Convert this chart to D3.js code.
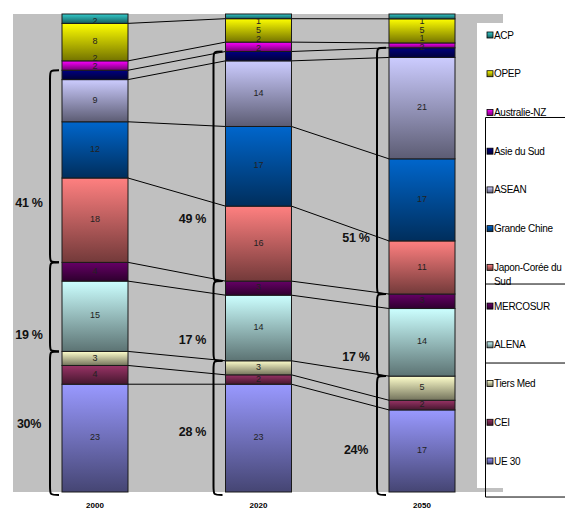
<!DOCTYPE html>
<html>
<head>
<meta charset="utf-8">
<script src="https://cdn.jsdelivr.net/npm/d3@7"></script>
<style>
  body { margin: 0; background: #fff; }
  svg { display: block; font-family: "Liberation Sans", Arial, sans-serif; }
</style>
</head>
<body>
<div id="chart"></div>
<script>
// data, listed from the top of each bar to the bottom
var years = ['2000', '2020', '2050'];
var regions = ['ACP', 'OPEP', 'Australie-NZ', 'Asie du Sud', 'ASEAN', 'Grande Chine',
  'Japon-Corée du Sud', 'MERCOSUR', 'ALENA', 'Tiers Med', 'CEI', 'UE 30'];
var regionColors = ['#33CCCC', '#FFFF00', '#FF00FF', '#000080', '#CCCCFF', '#0066CC',
  '#FF8080', '#660066', '#CCFFFF', '#FFFFCC', '#993366', '#9999FF'];

var share2000 = [2, 8, 2, 2, 9, 12, 18, 4, 15, 3, 4, 23];
var share2020 = [1, 5, 2, 2, 14, 17, 16, 3, 14, 3, 2, 23];
var share2050 = [1, 5, 1, 2, 21, 17, 11, 3, 14, 5, 2, 17];

// brace groups and their totals
var groupMembers = [
  ['Asie du Sud', 'ASEAN', 'Grande Chine', 'Japon-Corée du Sud'],
  ['MERCOSUR', 'ALENA'],
  ['Tiers Med', 'CEI', 'UE 30']
];
var groupLabels = [
  ['41 %', '19 %', '30%'],
  ['49 %', '17 %', '28 %'],
  ['51 %', '17 %', '24%']
];

// layout bits (hand placed in the original)
var pctAnchor = [[0.69, 0.81, 0.50], [0.73, 0.74, 0.53], [0.77, 0.76, 0.62]];
var legendRules = [2.13, 6.43, 8.47, 11.93];

var width = 565, height = 510;
var plot = { left: 13, top: 14, right: 503, bottom: 492 };
var barWidth = 66;

var svg = d3.select('#chart').append('svg')
  .attr('width', width)
  .attr('height', height);

var shares = [share2000, share2020, share2050];
var table = years.map(function(yr, i){
  var row = { year: yr };
  regions.forEach(function(r, k){ row[r] = shares[i][k]; });
  return row;
});

var stack = d3.stack()
  .keys(regions.slice().reverse())
  .offset(d3.stackOffsetExpand);
var series = stack(table);

var x = d3.scalePoint().domain(years).range([95, 422]);
var y = d3.scaleLinear().domain([0, 1]).range([plot.bottom, plot.top]);

// gradients: colour at the top, darker at the bottom
var defs = svg.append('defs');
regions.forEach(function(r, k){
  var c = d3.rgb(regionColors[k]);
  var dark = d3.rgb(c.r * 0.45, c.g * 0.45, c.b * 0.45);
  var g = defs.append('linearGradient')
    .attr('id', 'grad' + k)
    .attr('x1', 0).attr('y1', 0).attr('x2', 0).attr('y2', 1);
  g.append('stop').attr('offset', '0%').attr('stop-color', c.formatHex());
  g.append('stop').attr('offset', '100%').attr('stop-color', dark.formatHex());
});
function fillOf(r){ return 'url(#grad' + regions.indexOf(r) + ')'; }

// grey plot area
svg.append('rect')
  .attr('x', plot.left).attr('y', plot.top)
  .attr('width', plot.right - plot.left)
  .attr('height', plot.bottom - plot.top)
  .attr('fill', '#C0C0C0');

// segment geometry per bar
var segs = [];
series.forEach(function(s){
  s.forEach(function(d, j){
    segs.push({
      key: s.key,
      year: years[j],
      value: d.data[s.key],
      top: y(d[1]),
      bottom: y(d[0])
    });
  });
});
function segOf(key, yr){
  return segs.find(function(d){ return d.key === key && d.year === yr; });
}

// connector lines between bars
for (var i = 0; i < years.length - 1; i++){
  regions.slice(1).forEach(function(r){
    var a = segOf(r, years[i]), b = segOf(r, years[i + 1]);
    svg.append('line')
      .attr('x1', x(years[i]) + barWidth / 2).attr('y1', a.top)
      .attr('x2', x(years[i + 1]) - barWidth / 2).attr('y2', b.top)
      .attr('stroke', '#000')
      .attr('stroke-width', 1);
  });
}

// bars
svg.append('g').selectAll('rect')
  .data(segs)
  .join('rect')
  .attr('x', function(d){ return x(d.year) - barWidth / 2; })
  .attr('y', function(d){ return d.top; })
  .attr('width', barWidth)
  .attr('height', function(d){ return d.bottom - d.top; })
  .attr('fill', function(d){ return fillOf(d.key); })
  .attr('stroke', '#1a1a1a')
  .attr('stroke-width', 1);

// value labels, nudged apart where the segments are thin
years.forEach(function(yr){
  var labs = regions.map(function(r){
    var s = segOf(r, yr);
    var ly = (s.top + s.bottom) / 2 - 1;
    if (r === 'Asie du Sud') ly = s.top - 4;
    return { text: s.value, y: ly };
  });
  for (var k = labs.length - 2; k >= 0; k--){
    labs[k].y = Math.min(labs[k].y, labs[k + 1].y - 8.5);
  }
  labs[0].y = Math.max(labs[0].y, 21);
  for (var k2 = 1; k2 < labs.length; k2++){
    labs[k2].y = Math.max(labs[k2].y, labs[k2 - 1].y + 8.5);
  }
  svg.append('g').selectAll('text')
    .data(labs)
    .join('text')
    .attr('x', x(yr))
    .attr('y', function(d){ return d.y; })
    .attr('dy', '0.35em')
    .attr('text-anchor', 'middle')
    .attr('font-size', '9px')
    .attr('fill', '#222')
    .text(function(d){ return d.text; });
});

// braces and group percentages
years.forEach(function(yr, i){
  var left = x(yr) - barWidth / 2;
  var xl = left - 12, xe = left - 3, rr = 9;
  groupMembers.forEach(function(members, g){
    var top = d3.min(members, function(m){ return segOf(m, yr).top; });
    var bot = d3.max(members, function(m){ return segOf(m, yr).bottom; });
    if (g === groupMembers.length - 1) bot += 3;
    var p = d3.path();
    p.moveTo(xe, top);
    p.bezierCurveTo(xl, top, xl, top, xl, top + rr);
    p.lineTo(xl, bot - rr);
    p.bezierCurveTo(xl, bot, xl, bot, xe, bot);
    svg.append('path')
      .attr('d', p.toString())
      .attr('fill', 'none')
      .attr('stroke', '#000')
      .attr('stroke-width', 2);

    svg.append('text')
      .attr('x', left - 33)
      .attr('y', top + pctAnchor[i][g] * (bot - top))
      .attr('dy', '0.35em')
      .attr('text-anchor', 'middle')
      .attr('font-size', '12.5px')
      .attr('font-weight', 'bold')
      .attr('letter-spacing', '-0.3px')
      .attr('fill', '#111')
      .text(groupLabels[i][g]);
  });

  svg.append('text')
    .attr('x', x(yr))
    .attr('y', 508)
    .attr('text-anchor', 'middle')
    .attr('font-size', '8px')
    .attr('font-weight', 'bold')
    .text(yr);
});

// legend
svg.append('rect')
  .attr('x', 477).attr('y', 23)
  .attr('width', width - 477).attr('height', 465)
  .attr('fill', '#fff');

var ly = d3.scaleLinear().domain([0, regions.length - 1]).range([35, 461]);

var legendLine = svg.append('g')
  .attr('stroke', '#000')
  .attr('stroke-width', 1);
legendLine.append('line')
  .attr('x1', 485.5).attr('x2', 485.5)
  .attr('y1', ly(legendRules[0])).attr('y2', ly(legendRules[legendRules.length - 1]));
legendRules.forEach(function(v){
  legendLine.append('line')
    .attr('x1', 485.5).attr('x2', width)
    .attr('y1', ly(v)).attr('y2', ly(v));
});

var item = svg.append('g').selectAll('g')
  .data(regions)
  .join('g')
  .attr('transform', function(d, k){ return 'translate(487,' + ly(k) + ')'; });

item.append('rect')
  .attr('x', 0).attr('y', -3)
  .attr('width', 6).attr('height', 6)
  .attr('fill', function(d){ return fillOf(d); })
  .attr('stroke', '#000')
  .attr('stroke-width', 0.8);

item.append('text')
  .attr('x', 7)
  .attr('dy', '0.35em')
  .attr('font-size', '10px')
  .attr('letter-spacing', '-0.3px')
  .each(function(d){
    var t = d3.select(this);
    if (d === 'Japon-Corée du Sud'){
      t.append('tspan').attr('x', 7).text('Japon-Corée du');
      t.append('tspan').attr('x', 7).attr('dy', '1.4em').text('Sud');
    } else {
      t.text(d);
    }
  });
</script>
</body>
</html>
